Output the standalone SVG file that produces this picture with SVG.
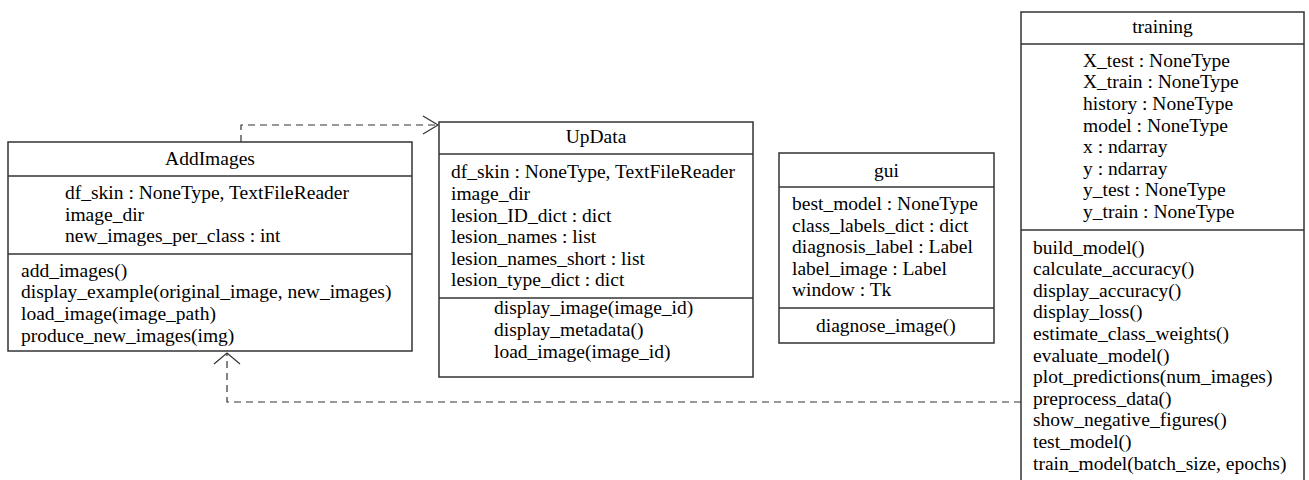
<svg xmlns="http://www.w3.org/2000/svg" width="1309" height="480" viewBox="0 0 1309 480">
  <style>
    .box { fill: #ffffff; stroke: #333333; stroke-width: 1.5; }
    .sep { stroke: #333333; stroke-width: 1.5; }
    text { font-family: "Liberation Serif", "Times New Roman", serif; font-size: 19.5px; fill: #000000; }
    .title { text-anchor: middle; }
    .dep { fill: none; stroke: #333333; stroke-width: 1.2; stroke-dasharray: 7,5; }
    .head { fill: none; stroke: #333333; stroke-width: 1.2; }
  </style>
  <rect width="1309" height="480" fill="#ffffff"/>

  <g id="connectors">
    <!-- AddImages depends on UpData -->
    <polyline class="dep" points="241,142 241,125 437,125"/>
    <polyline class="head" points="423,116 438,125 423,134"/>
    <!-- training depends on AddImages -->
    <polyline class="dep" points="1021,402 227,402 227,353"/>
    <polyline class="head" points="214,364 227,353 240,364"/>
  </g>

  <g id="AddImages">
    <rect class="box" x="8" y="142" width="404" height="209"/>
    <line class="sep" x1="8" y1="176" x2="412" y2="176"/>
    <line class="sep" x1="8" y1="254" x2="412" y2="254"/>
    <text class="title" x="210" y="165">AddImages</text>
    <text x="65" y="199">df_skin : NoneType, TextFileReader</text>
    <text x="65" y="220.6">image_dir</text>
    <text x="65" y="242.2">new_images_per_class : int</text>
    <text x="21" y="276.7">add_images()</text>
    <text x="21" y="298.3">display_example(original_image, new_images)</text>
    <text x="21" y="319.9">load_image(image_path)</text>
    <text x="21" y="341.5">produce_new_images(img)</text>
  </g>

  <g id="UpData">
    <rect class="box" x="439" y="122" width="314" height="255"/>
    <line class="sep" x1="439" y1="154" x2="753" y2="154"/>
    <line class="sep" x1="439" y1="298" x2="753" y2="298"/>
    <text class="title" x="596" y="143.3">UpData</text>
    <text x="451" y="178.3">df_skin : NoneType, TextFileReader</text>
    <text x="451" y="199.9">image_dir</text>
    <text x="451" y="221.5">lesion_ID_dict : dict</text>
    <text x="451" y="243.1">lesion_names : list</text>
    <text x="451" y="264.7">lesion_names_short : list</text>
    <text x="451" y="286.3">lesion_type_dict : dict</text>
    <text x="494" y="314.3">display_image(image_id)</text>
    <text x="494" y="335.9">display_metadata()</text>
    <text x="494" y="357.5">load_image(image_id)</text>
  </g>

  <g id="gui">
    <rect class="box" x="779" y="153" width="215" height="190"/>
    <line class="sep" x1="779" y1="187" x2="994" y2="187"/>
    <line class="sep" x1="779" y1="308" x2="994" y2="308"/>
    <text class="title" x="886.5" y="177.3">gui</text>
    <text x="792" y="210">best_model : NoneType</text>
    <text x="792" y="231.6">class_labels_dict : dict</text>
    <text x="792" y="253.2">diagnosis_label : Label</text>
    <text x="792" y="274.8">label_image : Label</text>
    <text x="792" y="296.4">window : Tk</text>
    <text x="816" y="331.7">diagnose_image()</text>
  </g>

  <g id="training">
    <rect class="box" x="1021" y="12" width="283" height="472"/>
    <line class="sep" x1="1021" y1="44" x2="1304" y2="44"/>
    <line class="sep" x1="1021" y1="230" x2="1304" y2="230"/>
    <text class="title" x="1162.5" y="33.3">training</text>
    <text x="1083" y="66.7">X_test : NoneType</text>
    <text x="1083" y="88.3">X_train : NoneType</text>
    <text x="1083" y="109.9">history : NoneType</text>
    <text x="1083" y="131.5">model : NoneType</text>
    <text x="1083" y="153.1">x : ndarray</text>
    <text x="1083" y="174.7">y : ndarray</text>
    <text x="1083" y="196.3">y_test : NoneType</text>
    <text x="1083" y="217.9">y_train : NoneType</text>
    <text x="1033" y="253.5">build_model()</text>
    <text x="1033" y="275.1">calculate_accuracy()</text>
    <text x="1033" y="296.7">display_accuracy()</text>
    <text x="1033" y="318.3">display_loss()</text>
    <text x="1033" y="339.9">estimate_class_weights()</text>
    <text x="1033" y="361.5">evaluate_model()</text>
    <text x="1033" y="383.1">plot_predictions(num_images)</text>
    <text x="1033" y="404.7">preprocess_data()</text>
    <text x="1033" y="426.3">show_negative_figures()</text>
    <text x="1033" y="447.9">test_model()</text>
    <text x="1033" y="469.5">train_model(batch_size, epochs)</text>
  </g>
</svg>
